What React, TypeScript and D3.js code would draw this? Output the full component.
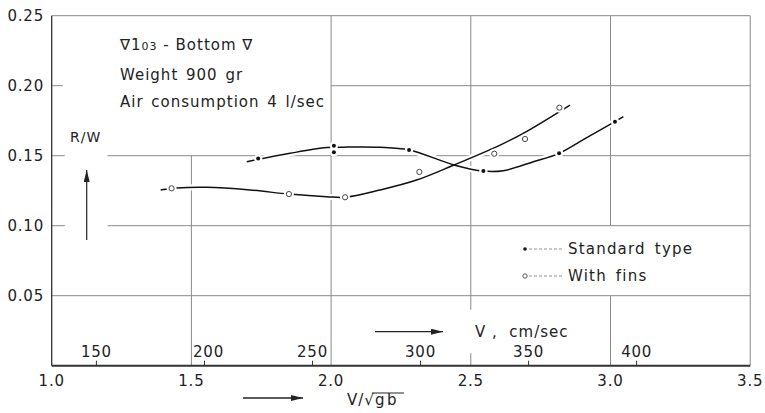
import React from "react";
import * as d3 from "d3";

const width = 765;
const height = 413;
const SQRT_GB = 129.3; // cm/sec for one unit of V/sqrt(gb)

// measured points, V/sqrt(gb) vs R/W
const stdX = [1.739, 2.01, 2.01, 2.279, 2.545, 2.816, 3.016];
const stdY = [0.148, 0.1571, 0.1524, 0.1541, 0.1391, 0.1517, 0.1743];
const finX = [1.429, 1.849, 2.05, 2.316, 2.584, 2.694, 2.817];
const finY = [0.1267, 0.1226, 0.1203, 0.1384, 0.1514, 0.1619, 0.1843];

// faired curves as drawn
const stdCurveX = [1.698, 1.853, 1.984, 2.044, 2.175, 2.279, 2.44, 2.545, 2.616, 2.724, 2.816, 2.915, 3.016, 3.046];
const stdCurveY = [0.1457, 0.1517, 0.1558, 0.1561, 0.156, 0.1541, 0.1434, 0.139, 0.1393, 0.1457, 0.1517, 0.1629, 0.1743, 0.1779];
const finCurveX = [1.39, 1.447, 1.555, 1.71, 1.849, 1.984, 2.05, 2.175, 2.306, 2.44, 2.605, 2.694, 2.855];
const finCurveY = [0.1255, 0.1269, 0.1274, 0.1255, 0.1226, 0.1207, 0.1203, 0.1255, 0.1326, 0.1434, 0.1576, 0.1667, 0.1862];

const xTicks = [1.0, 1.5, 2.0, 2.5, 3.0, 3.5];
const yTicks = [0.05, 0.1, 0.15, 0.2, 0.25];
const vTicks = [150, 200, 250, 300, 350, 400];

const textLines = ["Weight 900 gr", "Air consumption 4 l/sec"];
const legendLabels = ["Standard type", "With fins"];

const FONT = "'DejaVu Sans', sans-serif";

export default function App() {
    const x = d3.scaleLinear().domain([1.0, 3.5]).range([51.7, 750.2]);
    const y = d3.scaleLinear().domain([0, 0.25]).range([365.7, 15.7]);

    const line = d3.line<[number, number]>()
        .x(d => x(d[0]))
        .y(d => y(d[1]))
        .curve(d3.curveCatmullRom.alpha(0.5));

    const stdCurve = line(stdCurveX.map((v, i) => [v, stdCurveY[i]] as [number, number])) || "";
    const finCurve = line(finCurveX.map((v, i) => [v, finCurveY[i]] as [number, number])) || "";

    // grid segments with the gaps left by the draughtsman
    const vGrid: [number, number, number][] = [
        [1.5, 0, 0.15],
        [2.0, 0, 0.25],
        [2.5, 0, 0.009],
        [2.5, 0.04, 0.25],
        [3.0, 0, 0.05],
        [3.0, 0.1, 0.25],
    ];
    const hGrid: [number, number, number][] = [
        [0.25, 1.0, 3.5],
        [0.2, 1.0, 1.04],
        [0.2, 2.0, 3.5],
        [0.15, 1.0, 1.047],
        [0.15, 1.2, 3.5],
        [0.1, 1.0, 1.047],
        [0.1, 1.2, 3.5],
        [0.05, 1.0, 3.5],
    ];

    const gridColor = "#8a8a8a";

    return (
        <svg width={width} height={height} style={{ position: "absolute", left: 0, top: 0, background: "#fff" }}
            fontFamily={FONT}>
            <defs>
                <marker id="arrow" viewBox="0 0 12 6" refX="12" refY="3" markerWidth="12" markerHeight="6"
                    markerUnits="userSpaceOnUse" orient="auto">
                    <path d="M0,0 L12,3 L0,6 Z" fill="#222" />
                </marker>
            </defs>

            {vGrid.map((g, i) => (
                <line key={"v" + i} x1={x(g[0])} x2={x(g[0])} y1={y(g[1])} y2={y(g[2])}
                    stroke={gridColor} strokeWidth={1} />
            ))}
            {hGrid.map((g, i) => (
                <line key={"h" + i} x1={x(g[1])} x2={x(g[2])} y1={y(g[0])} y2={y(g[0])}
                    stroke={gridColor} strokeWidth={1} />
            ))}
            {/* right border */}
            <line x1={x(3.5)} x2={x(3.5)} y1={y(0)} y2={y(0.25)} stroke={gridColor} strokeWidth={1} />
            {/* axes */}
            <line x1={x(1.0)} x2={x(1.0)} y1={y(0)} y2={y(0.25)} stroke="#333" strokeWidth={1.3} />
            <line x1={x(1.0)} x2={x(3.5)} y1={y(0)} y2={y(0)} stroke="#333" strokeWidth={2} />

            {/* y tick labels */}
            {yTicks.map(t => (
                <text key={"yt" + t} x={44} y={y(t)} dy="0.36em" textAnchor="end" fontSize={15}
                    letterSpacing={0.8} fill="#222">{d3.format(".2f")(t)}</text>
            ))}
            {/* x tick labels */}
            {xTicks.map(t => (
                <text key={"xt" + t} x={x(t)} y={386} textAnchor="middle" fontSize={15}
                    letterSpacing={0.8} fill="#222">{d3.format(".1f")(t)}</text>
            ))}
            {/* V, cm/sec scale */}
            {vTicks.map(v => (
                <g key={"vt" + v}>
                    <line x1={x(v / SQRT_GB)} x2={x(v / SQRT_GB)} y1={y(0)} y2={y(0) - 5} stroke="#333" strokeWidth={1} />
                    <text x={x(v / SQRT_GB) + (v === 200 ? 4 : 0)} y={357} textAnchor="middle" fontSize={15}
                        letterSpacing={0.8} fill="#222">{v}</text>
                </g>
            ))}

            {/* curves: white halo first so grid breaks around them */}
            <path d={stdCurve} fill="none" stroke="#fff" strokeWidth={6} />
            <path d={finCurve} fill="none" stroke="#fff" strokeWidth={6} />
            <path d={stdCurve} fill="none" stroke="#111" strokeWidth={1.5} />
            <path d={finCurve} fill="none" stroke="#111" strokeWidth={1.5} />

            {/* points */}
            {stdX.map((v, i) => (
                <g key={"s" + i}>
                    <circle cx={x(v)} cy={y(stdY[i])} r={4.2} fill="#fff" />
                    <circle cx={x(v)} cy={y(stdY[i])} r={2} fill="#111" />
                </g>
            ))}
            {finX.map((v, i) => (
                <g key={"f" + i}>
                    <circle cx={x(v)} cy={y(finY[i])} r={5} fill="#fff" />
                    <circle cx={x(v)} cy={y(finY[i])} r={2.6} fill="#fff" stroke="#444" strokeWidth={1} />
                </g>
            ))}

            {/* text block */}
            <text x={120} y={50} fontSize={15} letterSpacing={1} fill="#222">
                <tspan>∇1</tspan><tspan fontSize={11}>03</tspan><tspan> - Bottom ∇</tspan>
            </text>
            {textLines.map((t, i) => (
                <text key={"tl" + i} x={120} y={80 + i * 26.5} fontSize={15} letterSpacing={1}
                    wordSpacing={2} fill="#222">{t}</text>
            ))}

            {/* R/W label and arrow */}
            <text x={70} y={142} fontSize={14} letterSpacing={1} fill="#222">R/W</text>
            <line x1={86.7} x2={86.7} y1={240} y2={170} stroke="#222" strokeWidth={1.2} markerEnd="url(#arrow)" />

            {/* legend */}
            {legendLabels.map((t, i) => (
                <g key={"lg" + i} transform={`translate(525,${249 + i * 27})`}>
                    <line x1={4} x2={38} y1={0} y2={0} stroke="#777" strokeWidth={0.8} strokeDasharray="3,2" />
                    {i === 0
                        ? <circle cx={0} cy={0} r={1.8} fill="#111" />
                        : <circle cx={0} cy={0} r={2.2} fill="#fff" stroke="#444" strokeWidth={0.9} />}
                    <text x={43} y={0} dy="0.36em" fontSize={15} letterSpacing={1.2} wordSpacing={3}
                        fill="#222">{t}</text>
                </g>
            ))}

            {/* V , cm/sec */}
            <line x1={375} x2={443} y1={331.7} y2={331.7} stroke="#222" strokeWidth={1.3} markerEnd="url(#arrow)" />
            <text x={475} y={337} fontSize={15} letterSpacing={1} fill="#222" xmlSpace="preserve">V ,  cm/sec</text>

            {/* V/sqrt(gb) */}
            <line x1={243} x2={303} y1={398} y2={398} stroke="#222" strokeWidth={1.3} markerEnd="url(#arrow)" />
            <text x={347} y={405} fontSize={15} letterSpacing={1} fill="#222">V/√</text>
            <text x={375} y={405} fontSize={15} letterSpacing={2.5} fill="#222">gb</text>
            <line x1={372} x2={404} y1={393} y2={393} stroke="#222" strokeWidth={1} />
        </svg>
    );
}
